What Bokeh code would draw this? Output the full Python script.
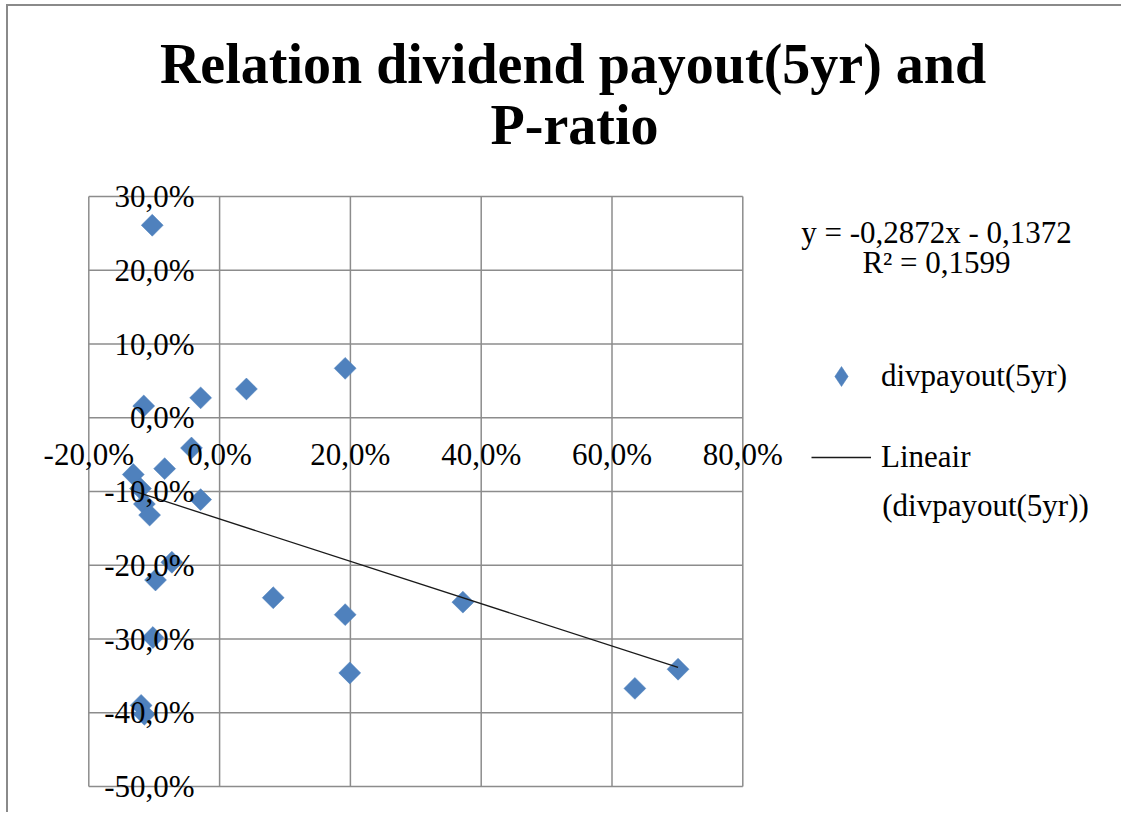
import numpy as np
from bokeh.plotting import figure
from bokeh.models import FixedTicker, CustomJSTickFormatter, Label, Legend, LegendItem
from bokeh.embed import file_html
from bokeh.resources import INLINE

# ---------------- data ----------------
title_lines = ["Relation dividend payout(5yr) and", "P-ratio"]
series_name = "divpayout(5yr)"
trend_name = ["Lineair", "(divpayout(5yr))"]
equation_lines = ["y = -0,2872x - 0,1372", "R\u00b2 = 0,1599"]
trend_slope = -0.2872
trend_intercept = -0.1372

x_ticks = [-0.2, 0.0, 0.2, 0.4, 0.6, 0.8]
y_ticks = [-0.5, -0.4, -0.3, -0.2, -0.1, 0.0, 0.1, 0.2, 0.3]

div_payout = [-0.103, 0.192, 0.041, -0.029, -0.116, -0.043, -0.084, -0.132,
              -0.121, -0.115, -0.107, -0.029, -0.073, -0.098, 0.082, 0.192,
              -0.102, 0.199, -0.120, -0.115, 0.372, 0.635, 0.701]
p_ratio = [0.261, 0.067, 0.039, 0.027, 0.016, -0.041, -0.069, -0.077,
           -0.096, -0.117, -0.132, -0.111, -0.196, -0.220, -0.244, -0.267,
           -0.298, -0.346, -0.390, -0.402, -0.250, -0.367, -0.341]

# ---------------- figure ----------------
FONT = "Liberation Serif"
GRID = "#8c8c8c"
BLUE = "#4F81BD"
TXT = "31px"
W, H = 1115, 808

# plot area (-0.2..0.8, -0.5..0.3) sits at canvas px x 80.3..734.3, y 190..780
px_x = 654 / 1.0
px_y = 590 / 0.8
x_start = x_ticks[0] - 80.3 / px_x
x_end = x_ticks[-1] + (W - 734.3) / px_x
y_end = y_ticks[-1] + 190 / px_y
y_start = y_ticks[0] - (H - 780) / px_y

p = figure(width=W, height=H, x_range=(x_start, x_end), y_range=(y_start, y_end),
           min_border=0, tools="", toolbar_location=None, output_backend="svg",
           background_fill_color="white", border_fill_color="white")
p.margin = (4, 0, 0, 6)
p.styles = {"border-left": "2px solid #8a8a8a", "border-top": "2px solid #8a8a8a"}
p.outline_line_color = None
p.xgrid.visible = False
p.ygrid.visible = False

fmt = CustomJSTickFormatter(code="return (tick*100).toFixed(1).replace('.', ',') + '%';")

for ax, ticks, standoff in ((p.xaxis[0], x_ticks, 19), (p.yaxis[0], y_ticks, 25)):
    ax.ticker = FixedTicker(ticks=ticks)
    ax.formatter = fmt
    ax.fixed_location = 0
    ax.axis_line_color = None
    ax.major_tick_line_color = None
    ax.minor_tick_line_color = None
    ax.major_tick_out = 0
    ax.major_tick_in = 0
    ax.major_label_standoff = standoff
    ax.major_label_text_font = FONT
    ax.major_label_text_font_size = TXT
    ax.major_label_text_color = "black"

# gridlines (plot-area edges included) drawn from the tick lists
nx, ny = len(x_ticks), len(y_ticks)
p.segment(x0=x_ticks, y0=[y_ticks[0]] * nx, x1=x_ticks, y1=[y_ticks[-1]] * nx,
          line_color=GRID, line_width=1.5)
p.segment(x0=[x_ticks[0]] * ny, y0=y_ticks, x1=[x_ticks[-1]] * ny, y1=y_ticks,
          line_color=GRID, line_width=1.5)

sc = p.scatter(div_payout, p_ratio, marker="square", angle=np.pi / 4, size=15.5,
               fill_color=BLUE, line_color="#4A7EBB", line_width=0.5)

tx = np.array([min(div_payout), max(div_payout)])
ty = trend_slope * tx + trend_intercept
ln = p.line(tx, ty, line_color="#1a1a1a", line_width=1.3)

# legend key proxy (legend keys ignore marker angle); NaN point is never drawn in the plot
key = p.scatter(x=[np.nan], y=[np.nan], marker="diamond", fill_color=BLUE,
                line_color="#4A7EBB", line_width=0.5)

legend = Legend(items=[LegendItem(label=series_name, renderers=[key]),
                       LegendItem(label=trend_name[0], renderers=[ln])],
                location=(803, 331.7), glyph_width=60, glyph_height=50, spacing=31,
                label_standoff=10, label_text_font=FONT, label_text_font_size=TXT,
                label_text_color="black",
                border_line_color=None, background_fill_alpha=0, padding=10, margin=0)
p.add_layout(legend)

def lab(x, y, text, size=TXT, style="normal", align="center"):
    p.add_layout(Label(x=x, y=y, x_units="screen", y_units="screen", text=text,
                       text_font=FONT, text_font_size=size, text_font_style=style,
                       text_align=align, text_baseline="alphabetic", text_color="black"))

lab(564.5, 751, title_lines[0], size="56px", style="bold")
lab(566, 690, title_lines[1], size="56px", style="bold")
lab(928, 582, equation_lines[0])
lab(928, 552, equation_lines[1])
lab(873.7, 309, trend_name[1], align="left")

open("out.html", "w").write(file_html(p, INLINE))
